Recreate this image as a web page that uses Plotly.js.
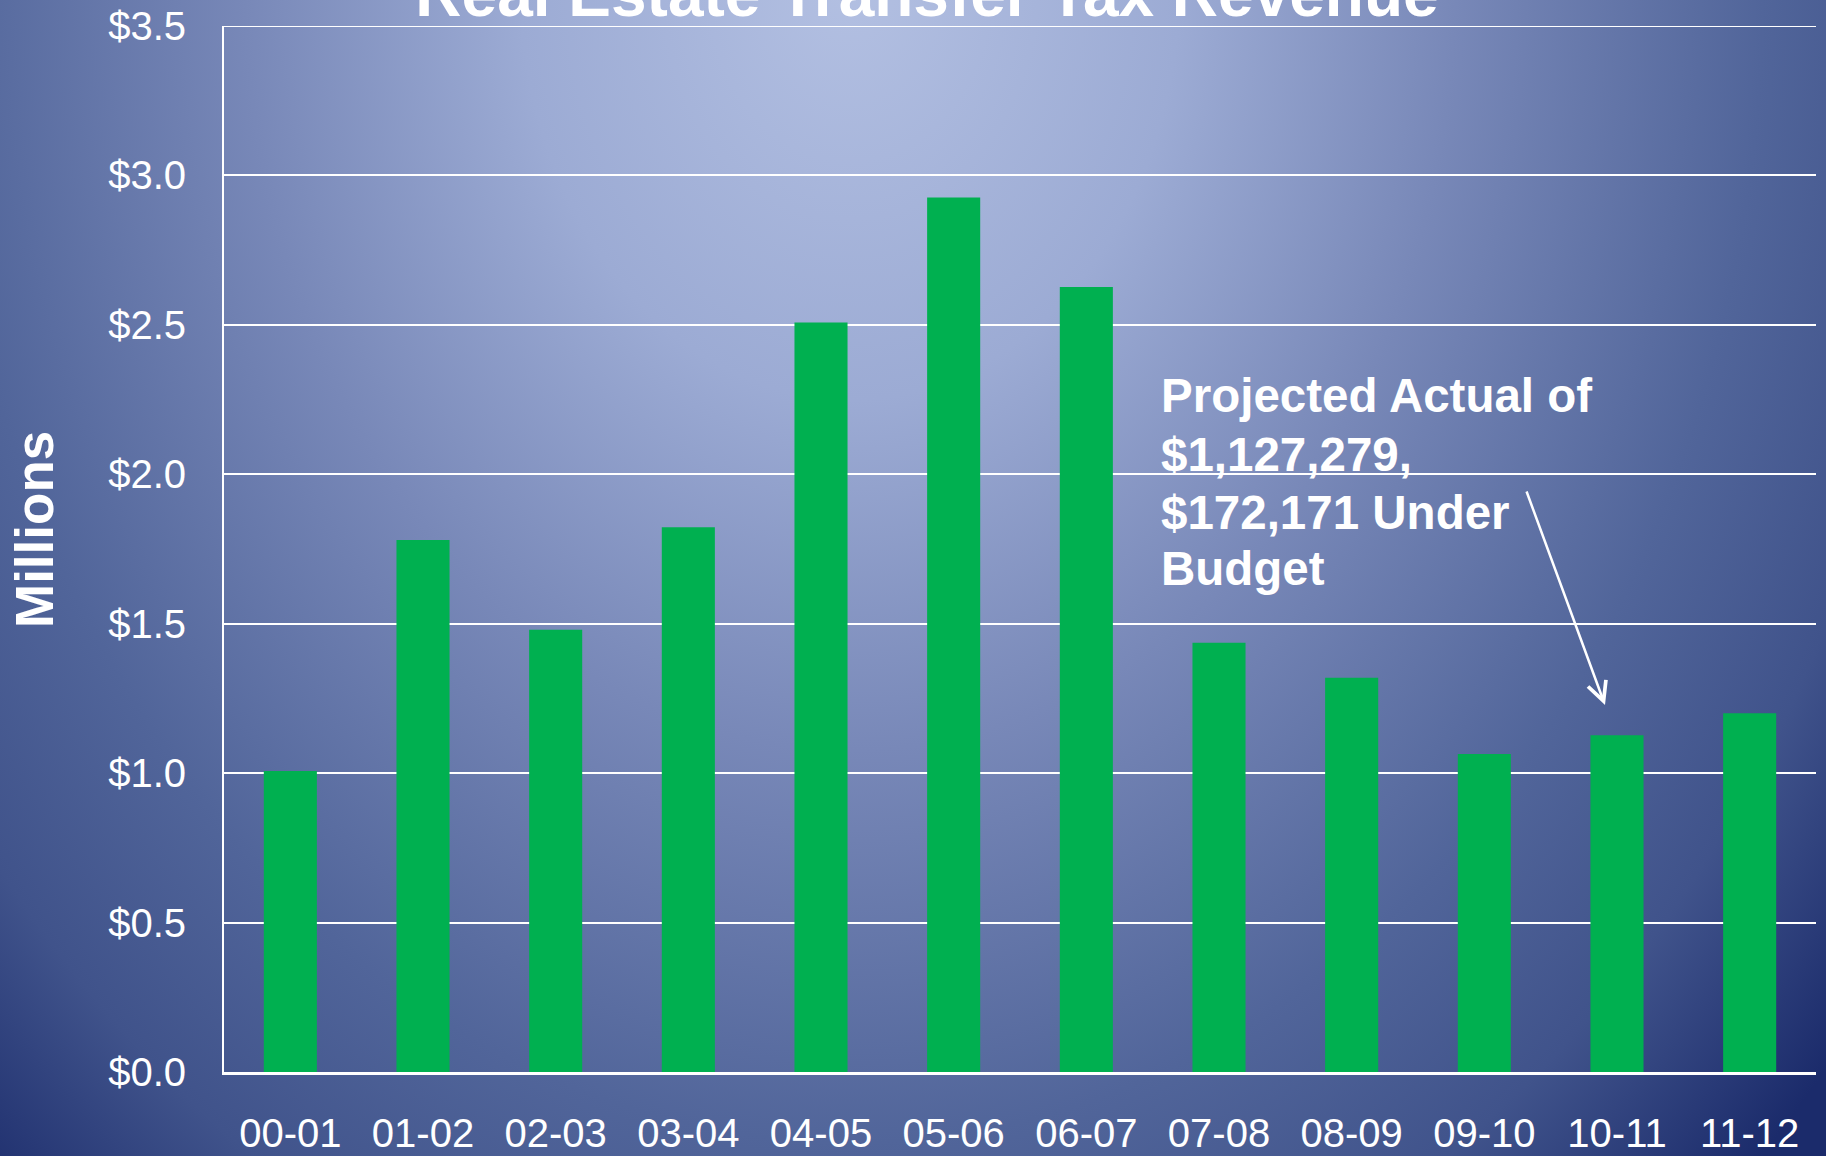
<!DOCTYPE html>
<html>
<head>
<meta charset="utf-8">
<script src="https://cdn.plot.ly/plotly-3.0.1.min.js"></script>
<style>
  html, body { margin: 0; padding: 0; width: 1826px; height: 1156px; overflow: hidden; }
  body {
    background: radial-gradient(ellipse 1100px 1400px at 850px -20px,
      #b3c0e2 0%, #9cabd4 30%, #7888b8 55%, #51659a 83%, #40538b 100%, #1b2b6b 118%);
  }
  #chart { width: 1826px; height: 1156px; }
</style>
</head>
<body>
<div id="chart"></div>
<script>
// Data (values in millions of dollars)
const fiscalYears = ["00-01","01-02","02-03","03-04","04-05","05-06","06-07","07-08","08-09","09-10","10-11","11-12"];
const revenueMillions = [1.007, 1.78, 1.48, 1.823, 2.508, 2.926, 2.627, 1.436, 1.319, 1.064, 1.127, 1.20];
const yTickValues = [0, 0.5, 1.0, 1.5, 2.0, 2.5, 3.0, 3.5];
const yTickLabels = ["$0.0", "$0.5", "$1.0", "$1.5", "$2.0", "$2.5", "$3.0", "$3.5"];
const chartTitle = "Real Estate Transfer Tax Revenue";
const yAxisTitle = "Millions";
const noteLines = ["Projected Actual of", "$1,127,279,", "$172,171 Under", "Budget"];

const FONT = "'Liberation Sans', Arial, sans-serif";

const W = 1826, H = 1156;
const margin = {l: 224, r: 10, t: 26, b: 84};
const plotW = W - margin.l - margin.r;
const plotH = H - margin.t - margin.b;
const px2x = p => (p - margin.l) / plotW;
const py2y = p => (H - margin.b - p) / plotH;

const noteBaselines = [411, 469, 527, 583];
const noteAnnotations = noteLines.map((t, i) => ({
  text: "<b>" + t + "</b>",
  xref: "paper", yref: "paper",
  x: px2x(1159), y: py2y(noteBaselines[i] - 15),
  xanchor: "left", yanchor: "middle",
  showarrow: false,
  font: {family: FONT, size: 47.5, color: "#ffffff"}
}));

const arrowAnnotation = {
  text: "",
  xref: "paper", yref: "paper",
  x: px2x(1605), y: py2y(705),
  ax: 1526 - 1605, ay: 490 - 705,
  showarrow: true,
  arrowhead: 5, arrowsize: 1.5, arrowwidth: 2.5,
  arrowcolor: "#ffffff", standoff: 0
};

const yTitleAnnotation = {
  text: "<b>" + yAxisTitle + "</b>",
  xref: "paper", yref: "paper",
  x: px2x(34), y: py2y(530),
  xanchor: "center", yanchor: "middle",
  textangle: -90,
  showarrow: false,
  font: {family: FONT, size: 53, color: "#ffffff"}
};

const trace = {
  type: "bar",
  x: fiscalYears,
  y: revenueMillions,
  marker: {color: "#00b050", line: {width: 0}},
  hoverinfo: "x+y"
};

const layout = {
  width: W, height: H,
  margin: margin,
  paper_bgcolor: "rgba(0,0,0,0)",
  plot_bgcolor: "rgba(0,0,0,0)",
  showlegend: false,
  bargap: 0.6,
  title: {
    text: "<b>" + chartTitle + "</b>",
    font: {family: FONT, size: 64, color: "#ffffff"},
    xref: "container", yref: "container",
    x: 927 / W, xanchor: "center",
    y: 1 - 16 / H, yanchor: "bottom"
  },
  xaxis: {
    type: "category",
    showgrid: false,
    showline: true, linecolor: "#ffffff", linewidth: 3,
    ticks: "",
    ticklabelstandoff: 24,
    tickfont: {family: FONT, size: 40, color: "#ffffff"},
    automargin: false,
    fixedrange: true
  },
  yaxis: {
    range: [0, 3.5],
    tickmode: "array",
    tickvals: yTickValues,
    ticktext: yTickLabels,
    showgrid: true, gridcolor: "#ffffff", gridwidth: 2,
    showline: true, linecolor: "#ffffff", linewidth: 2,
    zeroline: false,
    ticks: "",
    ticklabelstandoff: 28,
    tickfont: {family: FONT, size: 40, color: "#ffffff"},
    automargin: false,
    fixedrange: true
  },
  shapes: [{
    type: "line", layer: "below",
    xref: "paper", x0: 0, x1: 1,
    yref: "y", y0: yTickValues[yTickValues.length - 1], y1: yTickValues[yTickValues.length - 1],
    line: {color: "#ffffff", width: 2}
  }],
  annotations: noteAnnotations.concat([arrowAnnotation, yTitleAnnotation])
};

Plotly.newPlot("chart", [trace], layout, {displayModeBar: false, staticPlot: true});
</script>
</body>
</html>
